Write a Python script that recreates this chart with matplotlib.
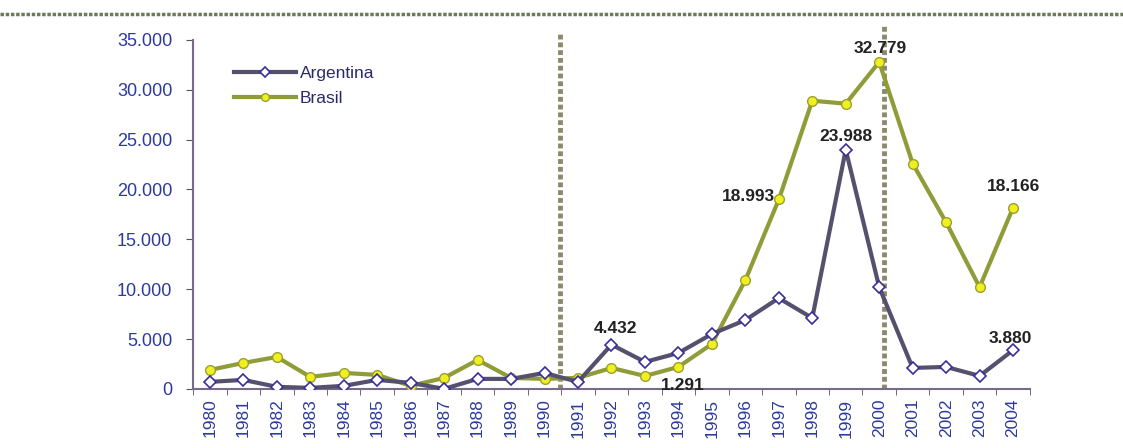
import matplotlib
matplotlib.use("Agg")
import matplotlib.pyplot as plt
from matplotlib.lines import Line2D
from matplotlib.ticker import FuncFormatter, FixedLocator

plt.rcParams["font.family"] = ["Liberation Sans", "DejaVu Sans"]

# data
years = [str(y) for y in range(1980, 2005)]
argentina = [700, 900, 200, 100, 300, 900, 600, 0, 1000, 1000, 1600, 700,
             4432, 2700, 3600, 5500, 6900, 9100, 7100, 23988, 10200, 2100,
             2200, 1300, 3880]
brasil = [1900, 2600, 3200, 1200, 1600, 1400, 300, 1100, 2900, 1100, 1000, 1100,
          2100, 1291, 2200, 4500, 10900, 18993, 28900, 28600, 32779, 22600,
          16700, 10200, 18166]

# labelled points: (year, text offset in points, ha)
labels_arg = [("1992", (3, 6), "center"), ("1999", (0, 4), "center"),
              ("2004", (-2, 3), "center")]
labels_bra = [("1993", (27, -12), "center"), ("1997", (-3, 2), "right"),
              ("2000", (1, 4), "center"), ("2004", (0, 10), "center")]

tick_col = "#2d3a9c"
arg_col = "#54506e"
bra_col = "#8f9c38"
sep_col = "#8c8a6a"

fig = plt.figure(figsize=(11.23, 4.48), dpi=100)
ax = fig.add_axes([0.172, 0.132, 0.745, 0.779])

x = list(range(len(years)))
ax.plot(x, argentina, color=arg_col, lw=3, marker="D", ms=6.5,
        mfc="white", mec="#3a2f9a", mew=1.2, label="Argentina", zorder=4)
ax.plot(x, brasil, color=bra_col, lw=3, marker="o", ms=7,
        mfc="#f0f020", mec="#9aa030", mew=1, label="Brasil", zorder=3)

for yr, off, ha in labels_arg:
    i = years.index(yr)
    ax.annotate(f"{argentina[i]:,}".replace(",", "."), (i, argentina[i]),
                xytext=off, textcoords="offset points", ha=ha, va="bottom",
                fontsize=12.5, fontweight="bold", color="#222222")
for yr, off, ha in labels_bra:
    i = years.index(yr)
    ax.annotate(f"{brasil[i]:,}".replace(",", "."), (i, brasil[i]),
                xytext=off, textcoords="offset points", ha=ha,
                va="center" if ha == "right" else "bottom",
                fontsize=12.5, fontweight="bold", color="#222222")

# period separators
ax.axvline(10.45, ymin=0, ymax=1.02, color=sep_col, lw=3.5, ls=(0, (1, 0.6)),
           clip_on=False, zorder=2)
ax.axvline(20.15, ymin=0, ymax=1.043, color=sep_col, lw=3.5, ls=(0, (1, 0.6)),
           clip_on=False, zorder=2)

ax.set_xlim(-0.5, len(years) - 0.5)
ax.set_ylim(0, 35000)
ax.set_yticks(range(0, 35001, 5000))
ax.yaxis.set_major_formatter(FuncFormatter(lambda v, p: f"{int(v):,}".replace(",", ".")))
ax.set_xticks(x)
ax.set_xticklabels(years, rotation=90)
ax.xaxis.set_minor_locator(FixedLocator([k - 0.5 for k in range(len(years) + 1)]))
ax.tick_params(axis="x", which="major", length=0, pad=7, labelsize=12.5, colors=tick_col)
ax.tick_params(axis="x", which="minor", length=4, direction="out", color="#555555")
ax.tick_params(axis="y", length=5, direction="out", labelsize=13, colors=tick_col, pad=10)
ax.tick_params(axis="y", color="#555555")
for s in ["top", "right"]:
    ax.spines[s].set_visible(False)
for s in ["left", "bottom"]:
    ax.spines[s].set_color("#7a6a8a")
    ax.spines[s].set_linewidth(1.5)

leg = ax.legend(loc="upper left", bbox_to_anchor=(0.03, 0.97), frameon=False,
                fontsize=12.5, handlelength=3.6, handletextpad=0.2, labelspacing=0.55,
                markerscale=0.8)
for t in leg.get_texts():
    t.set_color("#2a2a6a")

# top rule across the figure
fig.add_artist(Line2D([0, 1], [0.969, 0.969], color="#6a7a5a", lw=2.5,
                      ls=(0, (1, 0.5)), transform=fig.transFigure))

fig.savefig("out.png", dpi=100)
